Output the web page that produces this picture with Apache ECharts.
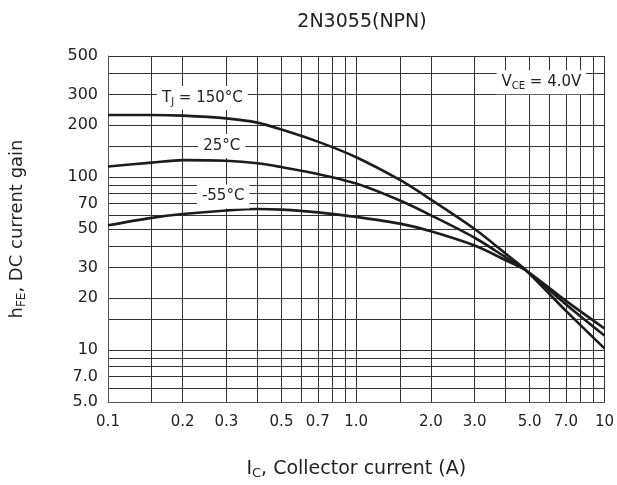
<!DOCTYPE html>
<html><head><meta charset="utf-8">
<script src="https://cdn.jsdelivr.net/npm/echarts@6/dist/echarts.min.js"></script>
<style>html,body{margin:0;padding:0;background:#fff}#c{width:617px;height:485px}</style>
</head><body><div id="c"></div>
<script>
// Collector current (A)
const ic      = [0.1, 0.15, 0.2, 0.3, 0.4, 0.5, 0.7, 1.0, 1.5, 2, 3, 4, 4.85, 7, 10];
// hFE at TJ = 150°C, 25°C, -55°C
const hfe150  = [228, 228, 226, 218, 206, 188, 160, 130, 96, 74, 50, 36, 28.7, 16.8, 10.2];
const hfe25   = [115, 121, 125, 124, 120, 114, 104, 91.5, 73, 60, 44.5, 34.3, 28.7, 18.3, 12.1];
const hfeM55  = [52.5, 58, 61, 64, 65.3, 64.7, 62.4, 58.7, 53.7, 48.5, 40.1, 33, 28.7, 19.2, 13.3];

const xGrid = [0.1,0.15,0.2,0.3,0.4,0.5,0.6,0.7,0.8,0.9,1,1.5,2,3,4,5,6,7,8,9,10];
const yGrid = [5,6,7,8,9,10,15,20,30,40,50,60,70,80,90,100,150,200,300,400,500];
const xTickVals   = [0.1,0.2,0.3,0.5,0.7,1,2,3,5,7,10];
const xTickLabels = ['0.1','0.2','0.3','0.5','0.7','1.0','2.0','3.0','5.0','7.0','10'];
const yTickVals   = [5,7,10,20,30,50,70,100,200,300,500];
const yTickLabels = ['5.0','7.0','10','20','30','50','70','100','200','300','500'];

const seriesNames = ['150°C','25°C','-55°C'];
const annoText = ['{a|T}{s|J}{a| = 150°C}', '{a|25°C}', '{a|-55°C}', '{a|V}{s|CE}{a| = 4.0V}'];
const annoX = [0.24, 0.287, 0.291, 5.57];
const annoY = [286, 151, 77, 352];

const FONT = 'DejaVu Sans';
function lab(vals, labels){
  return function(v){
    const i = vals.findIndex(t => Math.abs(t - v) / t < 1e-6);
    return i >= 0 ? labels[i] : '';
  };
}
const pairs = arr => ic.map((x, i) => [x, arr[i]]);
const lineStyle = {color:'#1c1c1c', width:2.6};

const chart = echarts.init(document.getElementById('c'), null, {renderer:'canvas'});
chart.setOption({
  animation:false,
  backgroundColor:'#fff',
  title:{text:'2N3055(NPN)', left:357, top:8, textAlign:'center',
    textStyle:{fontFamily:FONT, fontSize:19, fontWeight:'normal', color:'#222'}},
  grid:{left:107, right:12, top:56, bottom:82},
  xAxis:{type:'log', logBase:10, min:0.1, max:10,
    name:'{a|I}{s|C}{a|, Collector current (A)}', nameLocation:'middle', nameGap:56,
    nameTextStyle:{rich:{
      a:{fontFamily:FONT, fontSize:19, color:'#222', lineHeight:22},
      s:{fontFamily:FONT, fontSize:13, color:'#222', lineHeight:13, verticalAlign:'bottom'}}},
    axisLine:{show:true, lineStyle:{color:'#555', width:1}},
    axisTick:{show:false, customValues:xGrid},
    axisLabel:{customValues:xTickVals, formatter:lab(xTickVals, xTickLabels), margin:13,
      fontFamily:FONT, fontSize:15, color:'#222', showMinLabel:true, showMaxLabel:true},
    splitLine:{show:true, lineStyle:{color:'#333', width:1}}
  },
  yAxis:{type:'log', logBase:10, min:5, max:500,
    name:'{a|h}{s|FE}{a|, DC current gain}', nameLocation:'middle', nameGap:80, nameRotate:90,
    nameTextStyle:{rich:{
      a:{fontFamily:FONT, fontSize:18, color:'#222', lineHeight:22},
      s:{fontFamily:FONT, fontSize:12, color:'#222', lineHeight:12, verticalAlign:'bottom'}}},
    axisLine:{show:true, lineStyle:{color:'#555', width:1}},
    axisTick:{show:false, customValues:yGrid},
    axisLabel:{customValues:yTickVals, formatter:lab(yTickVals, yTickLabels), margin:10,
      fontFamily:FONT, fontSize:16, color:'#222', showMinLabel:true, showMaxLabel:true},
    splitLine:{show:true, lineStyle:{color:'#333', width:1}}
  },
  series:[
    {name:seriesNames[0], type:'line', data:pairs(hfe150), smooth:0.3, symbol:'none', lineStyle:lineStyle, z:3,
      markPoint:{symbol:'rect', symbolSize:1, itemStyle:{color:'rgba(0,0,0,0)'}, silent:true,
        label:{show:true, position:'inside', backgroundColor:'#fff', padding:[3,5,3,5],
          rich:{
            a:{fontFamily:FONT, fontSize:15, color:'#222', lineHeight:18},
            s:{fontFamily:FONT, fontSize:10, color:'#222', lineHeight:10, verticalAlign:'bottom'}}},
        data: annoText.map((t, i) => ({coord:[annoX[i], annoY[i]], label:{formatter:t}}))
      }},
    {name:seriesNames[1], type:'line', data:pairs(hfe25), smooth:0.3, symbol:'none', lineStyle:lineStyle, z:3},
    {name:seriesNames[2], type:'line', data:pairs(hfeM55), smooth:0.3, symbol:'none', lineStyle:lineStyle, z:3}
  ]
});
</script></body></html>
